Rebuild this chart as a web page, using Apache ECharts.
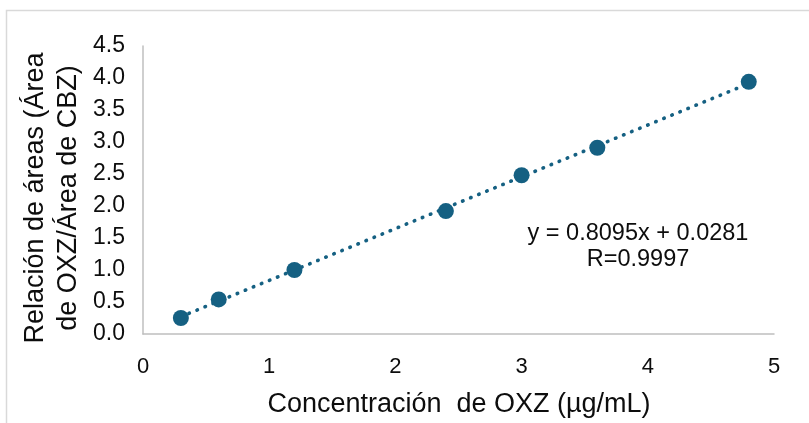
<!DOCTYPE html>
<html>
<head>
<meta charset="utf-8">
<script src="https://cdn.jsdelivr.net/npm/echarts@6/dist/echarts.min.js"></script>
<style>
  html, body { margin: 0; padding: 0; background: #ffffff; }
  #chart { width: 809px; height: 423px; }
</style>
</head>
<body>
<div id="chart"></div>
<script>
// Calibration data: OXZ concentration vs. peak area ratio (OXZ / CBZ)
const concentration = [0.3, 0.6, 1.2, 2.4, 3.0, 3.6, 4.8];
const areaRatio = [0.25, 0.54, 1.00, 1.92, 2.48, 2.91, 3.94];

// Least-squares fit reported on the chart
const fitSlope = 0.8095;
const fitIntercept = 0.0281;
const fitR = '0.9997';

// Axis ranges
const xTicks = { min: 0, max: 5, step: 1 };
const yTicks = { min: 0, max: 4.5, step: 0.5 };

const xTitle = 'Concentración  de OXZ (µg/mL)';
const yTitle = ['Relación de áreas (Área', 'de OXZ/Área de CBZ)'];

const fitXs = [Math.min(...concentration), Math.max(...concentration)];
const fitLine = fitXs.map(x => [x, fitSlope * x + fitIntercept]);

const FONT = "'Liberation Sans', Arial, sans-serif";
const MARK = '#156082';
const AXIS = '#bfbfbf';
const INK = '#0d0d0d';

const chart = echarts.init(document.getElementById('chart'), null, { renderer: 'canvas' });
chart.setOption({
  animation: false,
  backgroundColor: '#ffffff',
  grid: { left: 143, top: 46, right: 35, bottom: 89, containLabel: false },
  xAxis: {
    type: 'value',
    min: xTicks.min, max: xTicks.max, interval: xTicks.step,
    axisLine: { show: true, lineStyle: { color: AXIS, width: 1.5 } },
    axisTick: { show: false },
    splitLine: { show: false },
    axisLabel: { margin: 22, color: INK, fontSize: 22, fontFamily: FONT }
  },
  yAxis: {
    type: 'value',
    min: yTicks.min, max: yTicks.max, interval: yTicks.step,
    axisLine: { show: true, lineStyle: { color: AXIS, width: 1.5 } },
    axisTick: { show: false },
    splitLine: { show: false },
    axisLabel: {
      margin: 18, color: INK, fontSize: 23, fontFamily: FONT,
      formatter: v => v.toFixed(1)
    }
  },
  series: [
    {
      type: 'line',
      data: fitLine,
      symbol: 'none',
      silent: true,
      lineStyle: { color: MARK, width: 3.6, type: [0.5, 8.2], cap: 'round' },
      z: 2
    },
    {
      type: 'scatter',
      data: concentration.map((x, i) => [x, areaRatio[i]]),
      symbol: 'circle',
      symbolSize: 16,
      itemStyle: { color: MARK, opacity: 1 },
      z: 3
    }
  ],
  graphic: [
    {
      type: 'rect',
      shape: { x: 6.5, y: 10.5, width: 900, height: 500 },
      style: { fill: 'none', stroke: '#d9d9d9', lineWidth: 1.5 },
      silent: true, z: -10
    },
    {
      type: 'text',
      x: 459, y: 405,
      style: {
        text: xTitle, font: '27px ' + FONT, fill: INK,
        textAlign: 'center', textVerticalAlign: 'middle'
      }
    },
    {
      type: 'text',
      x: 52, y: 198,
      rotation: Math.PI / 2,
      style: {
        text: yTitle.join('\n'), font: '27px ' + FONT, fill: INK,
        textAlign: 'center', textVerticalAlign: 'middle', lineHeight: 33
      }
    },
    {
      type: 'text',
      x: 638, y: 247,
      style: {
        text: 'y = ' + fitSlope.toFixed(4) + 'x + ' + fitIntercept.toFixed(4) + '\nR=' + fitR,
        font: '23.5px ' + FONT, fill: INK,
        textAlign: 'center', textVerticalAlign: 'middle', lineHeight: 26
      }
    }
  ]
});
</script>
</body>
</html>
